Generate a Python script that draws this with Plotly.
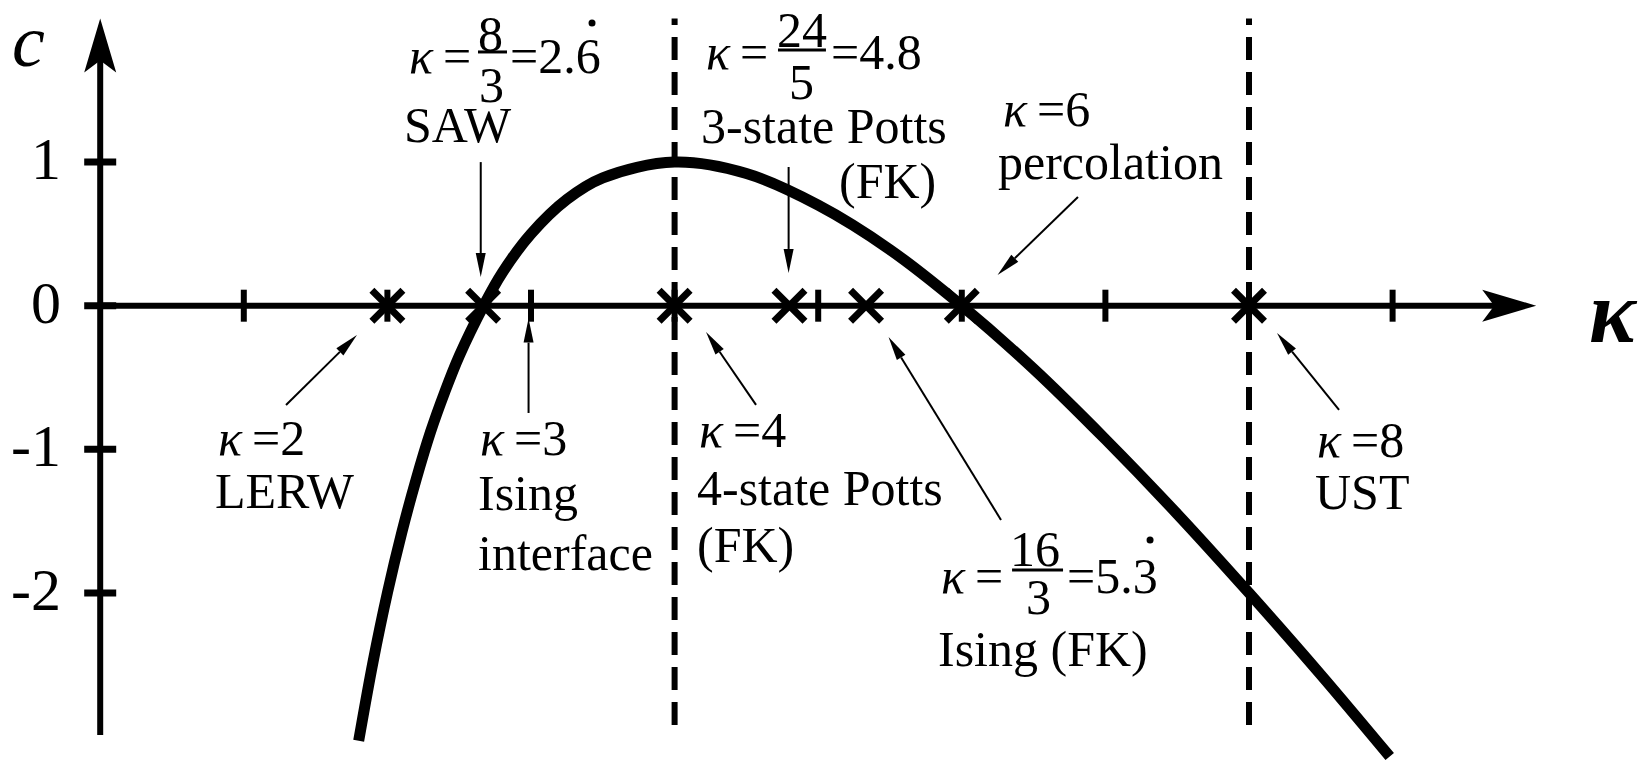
import plotly.graph_objects as go

# Central charge c as a function of the SLE parameter kappa
kappa = [1.8, 1.9, 2.0, 2.1, 2.2, 2.3, 2.4, 2.5, 2.67, 2.8, 3.0, 3.25, 3.5, 4.0,
         4.5, 5.0, 5.5, 6.0, 6.5, 7.0, 7.5, 8.0, 8.5, 8.98]
central_charge = [-3.03, -2.48, -2.00, -1.58, -1.21, -0.88, -0.60, -0.35, 0.00, 0.23,
                  0.50, 0.74, 0.89, 1.00, 0.92, 0.70, 0.39, 0.00, -0.44, -0.93,
                  -1.45, -2.00, -2.57, -3.14]

# Special kappa values marked with a cross on the kappa axis (all with c = 0)
special_kappa = [2, 8 / 3, 4, 24 / 5, 16 / 3, 6, 8]
special_c = [0, 0, 0, 0, 0, 0, 0]

# Dashed vertical guides
dashed_kappa = [4, 8]

# Axis ticks
kappa_ticks = [1, 2, 3, 4, 5, 6, 7, 8, 9]
c_ticks = [1, 0, -1, -2]
c_tick_labels = ["1", "0", "-1", "-2"]

FONT = "Liberation Serif"
U = 143.6          # pixels per data unit (same on both axes)
W_PX, H_PX = 1640, 761
X0_PX, Y0_PX = 100.2, 305.7


def u(p):
    """Convert a length in pixels to data units."""
    return p / U


def barbed_head(tx, ty, dx, dy, length=54, half=16, notch=42):
    nx, ny = -dy, dx
    pts = [
        (tx, ty),
        (tx - u(length) * dx + u(half) * nx, ty - u(length) * dy + u(half) * ny),
        (tx - u(notch) * dx, ty - u(notch) * dy),
        (tx - u(length) * dx - u(half) * nx, ty - u(length) * dy - u(half) * ny),
    ]
    path = "M " + " L ".join(f"{x:.4f},{y:.4f}" for x, y in pts) + " Z"
    return dict(type="path", path=path, fillcolor="black",
                line=dict(width=0, color="black"), layer="below")


def pointer(x0, y0, x1, y1, length=24, half=5):
    """Thin arrow from (x0, y0) to (x1, y1) with a slender filled head."""
    dx, dy = x1 - x0, y1 - y0
    n = (dx * dx + dy * dy) ** 0.5
    dx, dy = dx / n, dy / n
    nx, ny = -dy, dx
    bx, by = x1 - u(length) * dx, y1 - u(length) * dy
    line = dict(type="line", x0=x0, y0=y0, x1=bx, y1=by,
                line=dict(color="black", width=2))
    pts = [(x1, y1), (bx + u(half) * nx, by + u(half) * ny),
           (bx - u(half) * nx, by - u(half) * ny)]
    path = "M " + " L ".join(f"{x:.4f},{y:.4f}" for x, y in pts) + " Z"
    head = dict(type="path", path=path, fillcolor="black",
                line=dict(width=0, color="black"))
    return [line, head]


fig = go.Figure()

fig.add_trace(go.Scatter(
    x=kappa, y=central_charge, mode="lines",
    line=dict(color="black", width=11, shape="spline", smoothing=1.0),
    hoverinfo="skip", showlegend=False,
))
fig.add_trace(go.Scatter(
    x=special_kappa, y=special_c, mode="markers",
    marker=dict(symbol="x-thin", size=31, color="black",
                line=dict(color="black", width=7)),
    hoverinfo="skip", showlegend=False,
))

shapes = []
AX = dict(color="black", width=6)

# kappa axis with arrow
x_tip = 10.0
shapes.append(dict(type="line", x0=0, y0=0, x1=x_tip - u(40), y1=0, line=AX, layer="below"))
shapes.append(barbed_head(x_tip, 0, 1, 0))
# c axis with arrow
y_tip = 2.0
shapes.append(dict(type="line", x0=0, y0=-2.99, x1=0, y1=y_tip - u(40), line=AX, layer="below"))
shapes.append(barbed_head(0, y_tip, 0, 1))

for k in kappa_ticks:
    shapes.append(dict(type="line", x0=k, x1=k, y0=-u(16), y1=u(16),
                       line=dict(color="black", width=6), layer="below"))
for c in c_ticks:
    shapes.append(dict(type="line", x0=-u(16), x1=u(16), y0=c, y1=c,
                       line=dict(color="black", width=7), layer="below"))

for k in dashed_kappa:
    shapes.append(dict(type="line", x0=k, x1=k, y0=-2.92, y1=2.0,
                       line=dict(color="black", width=6, dash="23px,12px"),
                       layer="below"))

# fraction bars
for xa, xb, yb in [(2.631, 2.833, 1.767), (4.720, 5.054, 1.781), (6.350, 6.705, -1.841)]:
    shapes.append(dict(type="line", x0=xa, x1=xb, y0=yb, y1=yb,
                       line=dict(color="black", width=3)))

# repeating-decimal dots
for xd, yd in [(3.425, 1.969), (7.311, -1.631)]:
    r = u(3.5)
    shapes.append(dict(type="circle", x0=xd - r, x1=xd + r, y0=yd - r, y1=yd + r,
                       fillcolor="black", line=dict(width=0, color="black")))

# annotation pointers: tail -> head
for x0, y0, x1, y1 in [
    (2.65, 1.0, 2.65, 0.2),
    (4.794, 0.966, 4.794, 0.228),
    (6.809, 0.757, 6.249, 0.214),
    (1.294, -0.691, 1.788, -0.204),
    (2.983, -0.747, 2.983, -0.09),
    (4.567, -0.691, 4.219, -0.183),
    (6.273, -1.492, 5.490, -0.218),
    (8.627, -0.726, 8.195, -0.19),
]:
    shapes.extend(pointer(x0, y0, x1, y1))

K = "<i>κ</i>\u2009"
labels = [
    (f"{K}=", 2.582, 1.739, "right"),
    ("8", 2.721, 1.895, "center"),
    ("3", 2.725, 1.537, "center"),
    ("=2.6", 2.854, 1.739, "left"),
    ("SAW", 2.492, 1.258, "center"),
    (f"{K}=", 4.649, 1.767, "right"),
    ("24", 4.887, 1.92, "center"),
    ("5", 4.887, 1.558, "center"),
    ("=4.8", 5.09, 1.767, "left"),
    ("3-state Potts", 5.037, 1.248, "center"),
    ("(FK)", 5.483, 0.868, "center"),
    (f"{K}=6", 6.287, 1.373, "left"),
    ("percolation", 6.249, 1.004, "left"),
    (f"{K}=2", 0.820, -0.918, "left"),
    ("LERW", 0.80, -1.29, "left"),
    (f"{K}=3", 2.645, -0.918, "left"),
    ("Ising", 2.631, -1.304, "left"),
    ("interface", 2.631, -1.722, "left"),
    (f"{K}=4", 4.168, -0.866, "left"),
    ("4-state Potts", 4.154, -1.266, "left"),
    ("(FK)", 4.154, -1.666, "left"),
    (f"{K}=", 6.287, -1.882, "right"),
    ("16", 6.513, -1.694, "center"),
    ("3", 6.531, -2.029, "center"),
    ("=5.3", 6.733, -1.882, "left"),
    ("Ising (FK)", 5.834, -2.391, "left"),
    (f"{K}=8", 8.473, -0.935, "left"),
    ("UST", 8.459, -1.297, "left"),
]

annotations = []
for text, x, y, anchor in labels:
    annotations.append(dict(text=text, x=x, y=y, xref="x", yref="y", xanchor=anchor,
                            yanchor="middle", showarrow=False, borderpad=0, borderwidth=0,
                            font=dict(family=FONT, size=50, color="black")))

for val, lab in zip(c_ticks, c_tick_labels):
    annotations.append(dict(text=lab, x=-0.27, y=val + 0.02, xref="x", yref="y",
                            xanchor="right", yanchor="middle", showarrow=False,
                            borderpad=0, borderwidth=0,
                            font=dict(family=FONT, size=60, color="black")))

# axis names
annotations.append(dict(text="<i>c</i>", x=-0.496, y=2.128, xref="x", yref="y",
                        xanchor="center", yanchor="top", showarrow=False,
                        borderpad=0, borderwidth=0,
                        font=dict(family=FONT, size=74, color="black")))
annotations.append(dict(text="<b><i>κ</i></b>", x=10.535, y=-0.045, xref="x", yref="y",
                        xanchor="center", yanchor="middle", showarrow=False,
                        borderpad=0, borderwidth=0,
                        font=dict(family=FONT, size=88, color="black")))

fig.update_layout(
    width=W_PX, height=H_PX,
    margin=dict(l=0, r=0, t=0, b=0, pad=0),
    paper_bgcolor="white", plot_bgcolor="white",
    xaxis=dict(range=[-X0_PX / U, (W_PX - X0_PX) / U], visible=False, fixedrange=True),
    yaxis=dict(range=[-(H_PX - Y0_PX) / U, Y0_PX / U], visible=False, fixedrange=True),
    shapes=shapes, annotations=annotations, showlegend=False,
)

fig.write_html("out.html", config={"displayModeBar": False})
